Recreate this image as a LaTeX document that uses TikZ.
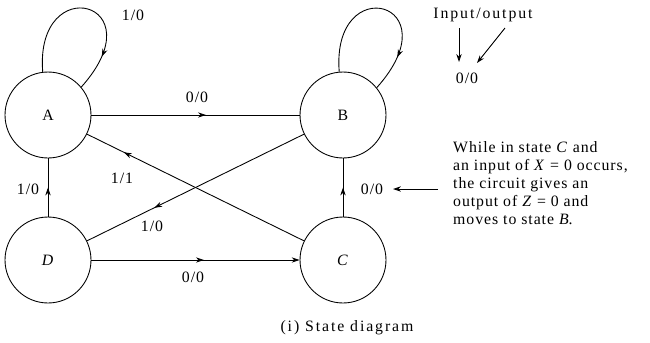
\documentclass[tikz,border=0pt]{standalone}
\usepackage{fontspec}
\setmainfont{Liberation Serif}[LetterSpace=6]
\usetikzlibrary{arrows.meta,decorations.markings}

\begin{document}
\begin{tikzpicture}[
                x=0.02cm, y=-0.02cm,
                line width=0.5pt,
                font=\fontsize{9}{10.2}\selectfont,
                >={Stealth[length=4.5pt,width=3pt]},
                state/.style={
                    draw,
                    circle,
                    minimum size=1.72cm,
                    inner sep=0pt
                },
                lbl/.style={
                    inner sep=1pt
                },
                spaced/.style={
                    font=\fontsize{9}{10.2}\selectfont\addfontfeature{LetterSpace=12}
                },
                midarrow/.style={
                    postaction={decorate},
                    decoration={markings, mark=at position #1 with {\arrow{>}}}
                }
            ]
                \useasboundingbox (0,0) rectangle (650,342);

                % states
                \node[state] (A) at (48,115)  {A};
                \node[state] (B) at (343,115) {B};
                \node[state] (C) at (343,260) {\textit{C}};
                \node[state] (D) at (48,260)  {\textit{D}};

                % transitions
                \draw[midarrow=0.55] (A) -- (B);
                \draw[midarrow=0.5] (D) -- (A);
                \draw[midarrow=0.5] (C) -- (B);
                \draw[midarrow=0.83] (C) -- (A);
                \draw[midarrow=0.69] (B) -- (D);
                \draw[->, midarrow=0.54] (D) -- (C);
                \draw[midarrow=0.8] (A.97) .. controls +(-8,-102) and +(77,-86) .. (A.40);
                \draw[midarrow=0.8] (B.95) .. controls +(-8,-102) and +(77,-86) .. (B.39);

                \node[lbl] (lAA) at (133,15)  {1/0};
                \node[lbl] (lAB) at (197,97)  {0/0};
                \node[lbl] (lCA) at (122,178) {1/1};
                \node[lbl] (lBD) at (152,226) {1/0};
                \node[lbl] (lDA) at (28,189)  {1/0};
                \node[lbl] (lDC) at (193,277) {0/0};
                \node[lbl] (lCB) at (372,189) {0/0};

                % legend
                \node[lbl, spaced] (io) at (483,15) {Input/output};
                \node[lbl] (leg) at (467,78) {0/0};
                \coordinate (v1) at (459,28);
                \coordinate (v2) at (459,62);
                \coordinate (d1) at (505,28);
                \coordinate (d2) at (477,63);
                \draw[->] (v1) -- (v2);
                \draw[->] (d1) -- (d2);

                \node[lbl, anchor=west, align=left] (note) at (451,183)
                    {While in state \textit{C} and\\
                     an input of \textit{X} = 0 occurs,\\
                     the circuit gives an\\
                     output of \textit{Z} = 0 and\\
                     moves to state \textit{B}.};
                \coordinate (t1) at (438,189);
                \coordinate (t2) at (393,189);
                \draw[->] (t1) -- (t2);

                \node[lbl, spaced] (cap) at (347,328) {(i) State diagram};
        \end{tikzpicture}
\end{document}
